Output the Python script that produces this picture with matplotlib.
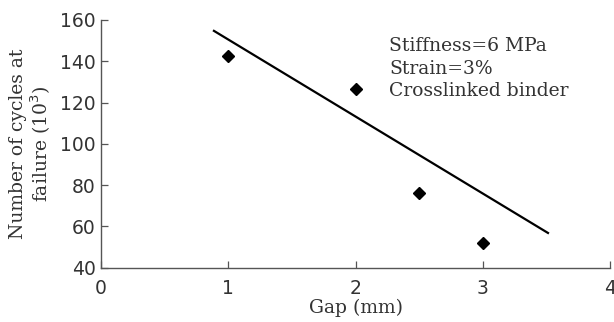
import matplotlib
matplotlib.use("Agg")
import matplotlib.pyplot as plt

# Measured fatigue life versus gap
gap_mm = [1.0, 2.0, 2.5, 3.0]
cycles_k = [142.7, 126.5, 76.0, 52.0]

# Trend line endpoints
trend_x = [0.88, 3.52]
trend_y = [155.0, 56.5]

x_ticks = [0, 1, 2, 3, 4]
y_ticks = [40, 60, 80, 100, 120, 140, 160]

annotation_lines = ["Stiffness=6 MPa", "Strain=3%", "Crosslinked binder"]

fig = plt.figure(figsize=(6.14, 3.22), dpi=100)
ax = fig.add_axes([0.1645, 0.169, 0.829, 0.769])

ax.plot(trend_x, trend_y, color="black", lw=1.6, solid_capstyle="butt")
ax.plot(gap_mm, cycles_k, linestyle="none", marker="D", color="black", markersize=6)

ax.set_xlim(0, 4)
ax.set_ylim(40, 160)
ax.set_xticks(x_ticks)
ax.set_yticks(y_ticks)

for side in ("top", "right"):
    ax.spines[side].set_visible(False)
for side in ("left", "bottom"):
    ax.spines[side].set_color("#555555")
    ax.spines[side].set_linewidth(1.0)

ax.tick_params(direction="in", length=5, width=0.9, color="#555555",
               labelsize=13.5, labelcolor="#333333")
ax.tick_params(axis="x", pad=8)
ax.tick_params(axis="y", pad=4)
for lbl in ax.get_xticklabels() + ax.get_yticklabels():
    lbl.set_family("DejaVu Sans")

ax.set_xlabel("Gap (mm)", family="DejaVu Serif", fontsize=13.5, color="#333333", labelpad=1)
ax.set_ylabel("Number of cycles at\nfailure (10$^3$)", family="DejaVu Serif",
              fontsize=13.5, color="#333333", labelpad=5, linespacing=1.05)

ax.text(0.566, 0.93, "\n".join(annotation_lines), transform=ax.transAxes,
        family="DejaVu Serif", fontsize=13.5, color="#333333",
        va="top", ha="left", linespacing=1.32)

fig.savefig("out.png", dpi=100)
